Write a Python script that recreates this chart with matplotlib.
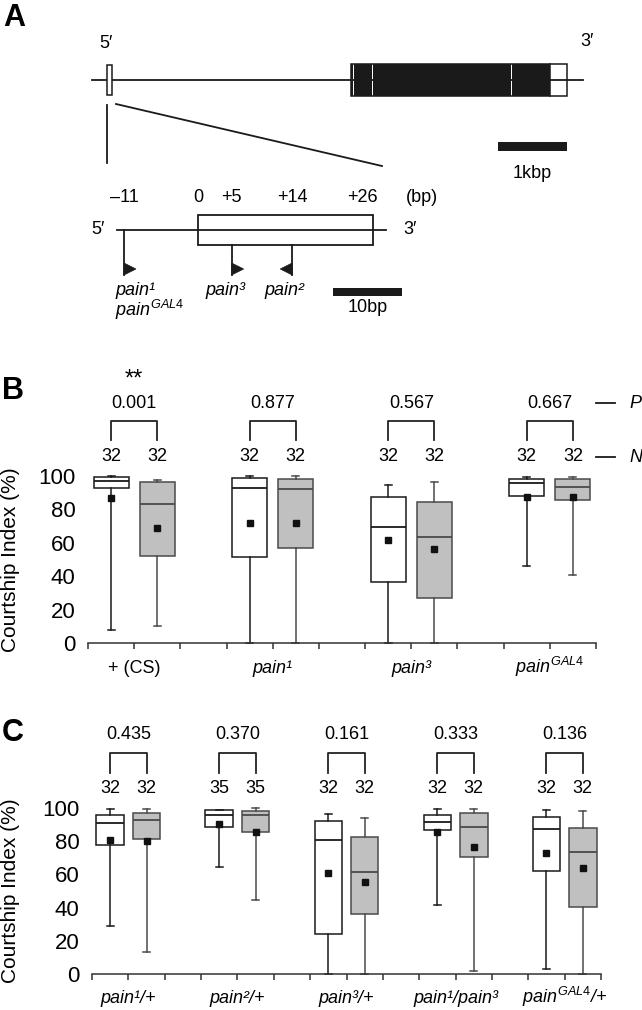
import numpy as np
import matplotlib
matplotlib.use("Agg")
import matplotlib.pyplot as plt
from matplotlib.patches import Rectangle, Polygon

plt.rcParams['font.family'] = ['Liberation Sans', 'DejaVu Sans']
plt.rcParams['mathtext.fontset'] = 'custom'
plt.rcParams['mathtext.rm'] = 'Liberation Sans'
plt.rcParams['mathtext.it'] = 'Liberation Sans:italic'
plt.rcParams['mathtext.bf'] = 'Liberation Sans:bold'

# --- Panel A: gene model (kb) and zoom on exon 1 (bp) ---
gene_span_kb = (0.0, 7.12)
exon1_kb = (0.217, 0.29)
coding_exons_kb = [(3.754, 3.776), (3.79, 4.052), (4.077, 6.068), (6.093, 6.64)]
utr3_kb = (6.64, 6.884)
kb_bar = 1.0

zoom_span_bp = (-12.0, 28.0)
zoom_exon_bp = (0, 26)
site_bp = [-11, 0, 5, 14, 26]
site_text = ['\u201311', '0', '+5', '+14', '+26']
mut_bp = [-11, 5, 14]
mut_dir = [1, 1, -1]
bp_bar = 10

# --- Panel B data (white = control, grey = test; pairs per genotype) ---
b_groups = ['+ (CS)', 'pain\u00b9', 'pain\u00b3', r'$\mathit{pain}^{\mathit{GAL4}}$']
b_italic = [False, True, True, True]
b_whislo = [8, 10, 0, 0, 0, 0, 46.2, 40.6]
b_q1 = [92.6, 52, 51.2, 56.8, 36.6, 27, 87.8, 85.6]
b_med = [97, 83.2, 93, 92, 69.2, 63.4, 95.6, 93.6]
b_q3 = [99.5, 96.4, 98.6, 98, 87.4, 84.6, 98.2, 98]
b_whishi = [100, 97.6, 100, 100, 94.6, 96.6, 99.6, 99.6]
b_mean = [86.6, 69, 71.6, 72, 61.6, 56, 87.6, 87.2]
b_n = [32, 32, 32, 32, 32, 32, 32, 32]
b_p = ['0.001', '0.877', '0.567', '0.667']

# --- Panel C data ---
c_groups = ['pain\u00b9/+', 'pain\u00b2/+', 'pain\u00b3/+', 'pain\u00b9/pain\u00b3',
            r'$\mathit{pain}^{\mathit{GAL4}}$/+']
c_italic = [True, True, True, True, True]
c_whislo = [29, 13, 64.6, 44.6, 0, 0, 41.6, 2, 3, 0]
c_q1 = [77.6, 81.2, 88.6, 85.6, 24.2, 36.2, 87, 70.4, 62.2, 40.6]
c_med = [91.2, 92.6, 96, 95.6, 81, 61.2, 91.6, 88.8, 87.4, 73.6]
c_q3 = [95.6, 97, 98.6, 98, 92.2, 82.4, 95.6, 97.2, 94.6, 88]
c_whishi = [99.6, 99.6, 99, 100, 96.6, 94.2, 99.6, 99.2, 98.8, 98.4]
c_mean = [81, 80, 90.2, 85.6, 61, 55.2, 85.4, 76.6, 73, 63.6]
c_n = [32, 32, 35, 35, 32, 32, 32, 32, 32, 32]
c_p = ['0.435', '0.370', '0.161', '0.333', '0.136']

W, H = 642, 1010
fig = plt.figure(figsize=(W / 100, H / 100), dpi=100)

# overlay axes in pixel units for the schematic and panel letters
ax0 = fig.add_axes([0, 0, 1, 1])
ax0.set_xlim(0, W)
ax0.set_ylim(H, 0)
ax0.axis('off')

FS = 13
ink = '#1a1a1a'


def kb2px(v):
    return 92 + 69 * v


def bp2px(v):
    return 198 + 6.73 * v


# gene line with exons
gy = 80
ax0.plot([kb2px(gene_span_kb[0]), kb2px(gene_span_kb[1])], [gy, gy], color=ink, lw=1.3, zorder=1)
ax0.add_patch(Rectangle((kb2px(exon1_kb[0]), 65), kb2px(exon1_kb[1]) - kb2px(exon1_kb[0]), 30,
                        facecolor='white', edgecolor=ink, lw=1.1, zorder=2))
for a, b in coding_exons_kb:
    ax0.add_patch(Rectangle((kb2px(a), 64), kb2px(b) - kb2px(a), 32,
                            facecolor=ink, edgecolor='none', zorder=2))
ax0.add_patch(Rectangle((kb2px(coding_exons_kb[0][0]), 64),
                        kb2px(utr3_kb[1]) - kb2px(coding_exons_kb[0][0]), 32,
                        facecolor='none', edgecolor=ink, lw=1.1, zorder=3))
ax0.plot([kb2px(utr3_kb[0]), kb2px(utr3_kb[0])], [64, 96], color=ink, lw=1.1, zorder=3)
ax0.text(106, 43, '5\u2032', fontsize=FS, ha='center', va='center')
ax0.text(587, 42, '3\u2032', fontsize=FS, ha='center', va='center')

# kb scale bar
ax0.add_patch(Rectangle((567 - 69 * kb_bar, 142), 69 * kb_bar, 9, facecolor=ink, edgecolor='none'))
ax0.text(532, 173, '1kbp', fontsize=FS, ha='center', va='center')

# zoom lines
ax0.plot([kb2px(exon1_kb[0]) + 0.5, kb2px(exon1_kb[0]) + 0.5], [105, 163], color=ink, lw=1.3)
ax0.plot([116, bp2px(zoom_exon_bp[1]) + 9], [104, 166], color=ink, lw=1.3)

# zoomed exon 1
zy = 230
ax0.plot([bp2px(zoom_span_bp[0]), bp2px(zoom_span_bp[1])], [zy, zy], color=ink, lw=1.3)
ax0.add_patch(Rectangle((bp2px(zoom_exon_bp[0]), 215), bp2px(zoom_exon_bp[1]) - bp2px(zoom_exon_bp[0]), 30,
                        facecolor='none', edgecolor=ink, lw=1.3))
ax0.text(98, zy, '5\u2032', fontsize=FS, ha='center', va='center')
ax0.text(410, zy, '3\u2032', fontsize=FS, ha='center', va='center')
for v, t in zip(site_bp, site_text):
    if v == 26:
        ax0.text(bp2px(v) + 5, 197, t, fontsize=FS, ha='right', va='center')
    else:
        ax0.text(bp2px(v), 197, t, fontsize=FS, ha='center', va='center')
ax0.text(422, 197, '(bp)', fontsize=FS, ha='center', va='center')

for v, d in zip(mut_bp, mut_dir):
    x = bp2px(v)
    top = zy if v < zoom_exon_bp[0] else 245
    ax0.plot([x, x], [top, 275], color=ink, lw=1.3)
    ax0.add_patch(Polygon([(x, 263), (x, 275), (x + d * 12, 269)], closed=True,
                          facecolor=ink, edgecolor=ink, lw=0.5))

ax0.text(115, 295, 'pain\u00b9', fontsize=FS, style='italic', ha='left', va='baseline')
ax0.text(115, 316, r'$\mathit{pain}^{\mathit{GAL4}}$', fontsize=FS, ha='left', va='baseline')
ax0.text(bp2px(5) - 6, 295, 'pain\u00b3', fontsize=FS, style='italic', ha='center', va='baseline')
ax0.text(bp2px(14) - 8, 295, 'pain\u00b2', fontsize=FS, style='italic', ha='center', va='baseline')
ax0.add_patch(Rectangle((333, 288), 6.9 * bp_bar, 8, facecolor=ink, edgecolor='none'))
ax0.text(368, 307, '10bp', fontsize=FS, ha='center', va='center')

# panel letters
for lab, x, y in [('A', 3, 18), ('B', 2, 391), ('C', 2, 733)]:
    ax0.text(x, y, lab, fontsize=22, fontweight='bold', ha='left', va='center')

# legend marks for P / N rows of panel B
for y, t in [(403, 'P'), (457, 'N')]:
    ax0.plot([596, 615], [y, y], color=ink, lw=1.3)
    ax0.text(629, y, t, fontsize=FS, style='italic', ha='left', va='center')


def box_panel(ax, groups, italic, whislo, q1, med, q3, whishi, mean, nvals, pvals,
              n_y, br_top, br_leg, p_y, lab_base, capw):
    npos = 3 * len(groups) - 1
    pos = [3 * (i // 2) + (i % 2) for i in range(len(med))]
    stats = []
    for i in range(len(med)):
        stats.append(dict(whislo=whislo[i], q1=q1[i], med=med[i], q3=q3[i],
                          whishi=whishi[i], mean=mean[i], fliers=[]))
    for k, (fc, ec) in enumerate([('white', '#1a1a1a'), ('#c0c0c0', '#4a4a4a')]):
        idx = [i for i in range(len(med)) if i % 2 == k]
        art = ax.bxp([stats[i] for i in idx], positions=[pos[i] for i in idx],
                     widths=0.76, patch_artist=True, showmeans=True, showfliers=False,
                     capwidths=capw,
                     boxprops=dict(facecolor=fc, edgecolor=ec, linewidth=1.1),
                     medianprops=dict(color=ec, linewidth=1.3),
                     whiskerprops=dict(color=ec, linewidth=1.1),
                     capprops=dict(color=ec, linewidth=1.1),
                     meanprops=dict(marker='s', markerfacecolor='#111111',
                                    markeredgecolor='#111111', markersize=4.4))
        for key in art:
            for a in art[key]:
                a.set_clip_on(False)
    ax.set_xlim(-0.5, npos - 0.5)
    ax.set_ylim(0, 100)
    ax.set_yticks(range(0, 101, 20))
    ax.set_xticks(np.arange(-0.5, npos, 1.0))
    ax.set_xticklabels([])
    for s in ['left', 'top', 'right']:
        ax.spines[s].set_visible(False)
    ax.spines['bottom'].set_linewidth(1.1)
    ax.spines['bottom'].set_color('#333333')
    ax.tick_params(axis='y', length=0, labelsize=16, pad=9)
    ax.tick_params(axis='x', length=4, width=1.1, direction='out', color='#333333')
    for i, n in enumerate(nvals):
        ax.text(pos[i], n_y, str(n), fontsize=FS, ha='center', va='center')
    for g, p in enumerate(pvals):
        a, b = 3 * g, 3 * g + 1
        ax.plot([a, a, b, b], [br_leg, br_top, br_top, br_leg], color='#222222', lw=1.3,
                clip_on=False)
        ax.text(3 * g + 0.5, p_y, p, fontsize=FS, ha='center', va='center')
        ax.text(3 * g + 0.5, lab_base, groups[g], fontsize=FS, ha='center', va='baseline',
                style='italic' if italic[g] else 'normal')
    return pos


def fig_rect(left, right, top, bottom):
    return [left / W, 1 - bottom / H, (right - left) / W, (bottom - top) / H]


axB = fig.add_axes(fig_rect(88, 596, 476, 643))
box_panel(axB, b_groups, b_italic, b_whislo, b_q1, b_med, b_q3, b_whishi, b_mean, b_n, b_p,
          n_y=111.4, br_top=132.9, br_leg=121.5, p_y=143.7, lab_base=-18.0, capw=0.15)
axB.text(0.5, 158.0, '**', fontsize=17, ha='center', va='center')

axC = fig.add_axes(fig_rect(92, 601, 808, 974))
box_panel(axC, c_groups, c_italic, c_whislo, c_q1, c_med, c_q3, c_whishi, c_mean, c_n, c_p,
          n_y=112, br_top=133.1, br_leg=121, p_y=144, lab_base=-17.2, capw=0.2)

for yc in [560, 891]:
    fig.text(11 / W, 1 - yc / H, 'Courtship Index (%)', fontsize=15, rotation=90,
             ha='center', va='center')

fig.savefig('out.png', dpi=100)
